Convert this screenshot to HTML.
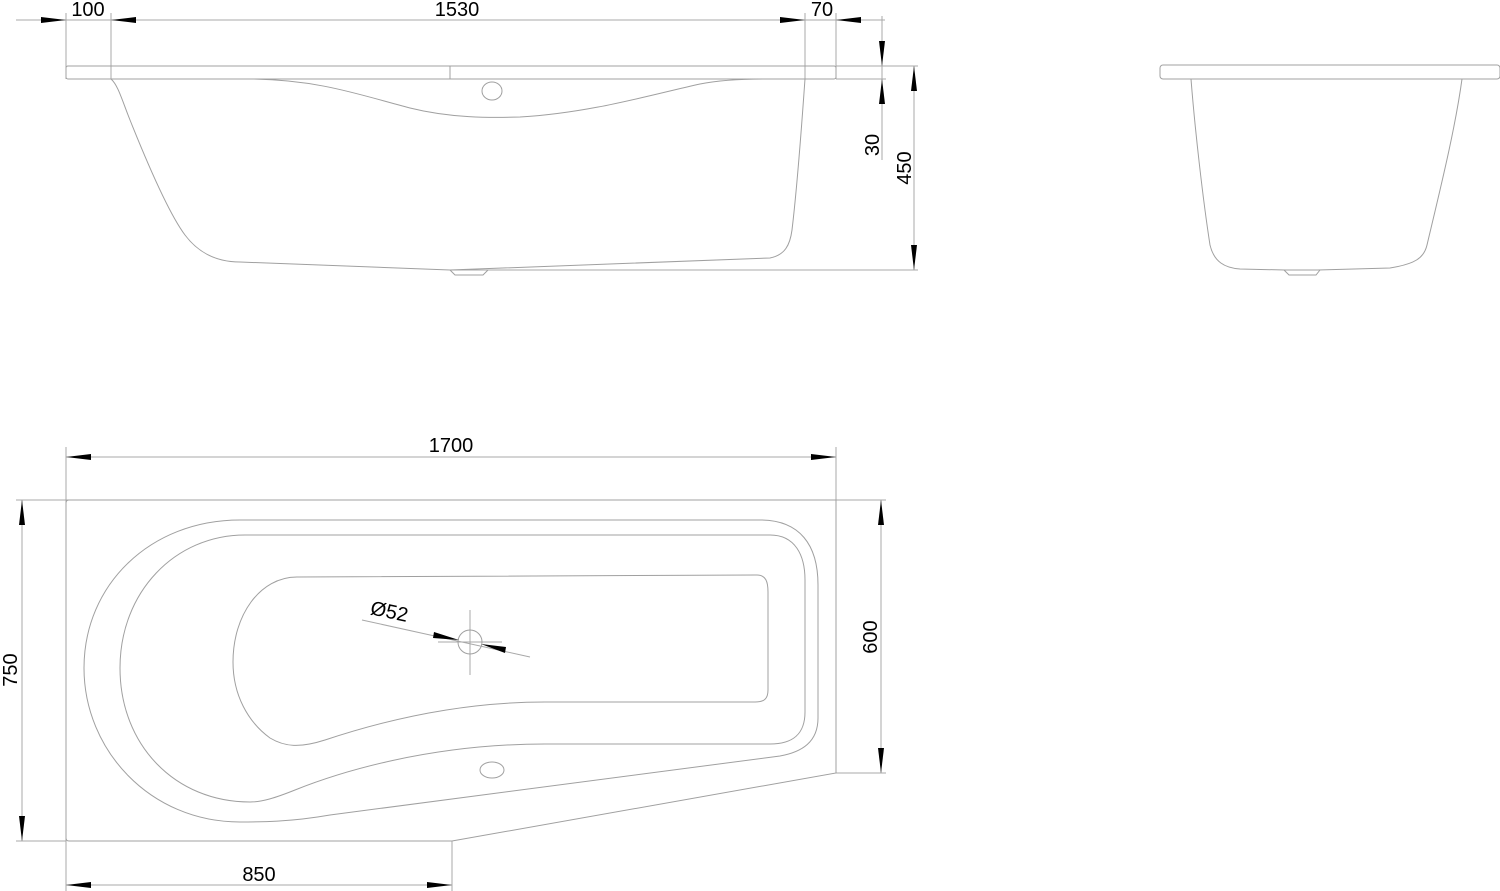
<!DOCTYPE html>
<html><head><style>html,body{margin:0;padding:0;background:#fff}svg{display:block}text{font-family:"Liberation Sans",sans-serif;font-size:20px;fill:#000}</style></head>
<body>
<svg width="1500" height="891" viewBox="0 0 1500 891" xmlns="http://www.w3.org/2000/svg">
<g fill="none" stroke="#a8a8a8" stroke-width="1">
<line x1="16" y1="20" x2="885" y2="20"/>
<line x1="66" y1="13" x2="66" y2="79"/>
<line x1="111" y1="13" x2="111" y2="79"/>
<line x1="805" y1="13" x2="805" y2="79"/>
<line x1="836" y1="13" x2="836" y2="79"/>
<line x1="882" y1="16" x2="882" y2="160"/>
<line x1="914" y1="66" x2="914" y2="270"/>
<line x1="836" y1="66" x2="918" y2="66"/>
<line x1="836" y1="79" x2="886" y2="79"/>
<line x1="450" y1="270" x2="918" y2="270"/>
<line x1="66" y1="457" x2="836" y2="457"/>
<line x1="66" y1="447" x2="66" y2="891"/>
<line x1="836" y1="447" x2="836" y2="500"/>
<line x1="16" y1="500" x2="886" y2="500"/>
<line x1="836" y1="773" x2="886" y2="773"/>
<line x1="16" y1="841" x2="66" y2="841"/>
<line x1="22" y1="500" x2="22" y2="841"/>
<line x1="881" y1="500" x2="881" y2="773"/>
<line x1="66" y1="885" x2="452" y2="885"/>
<line x1="452" y1="841" x2="452" y2="891"/>
<line x1="362" y1="620" x2="530" y2="657"/>
<line x1="438" y1="642" x2="502" y2="642"/>
<line x1="470" y1="610" x2="470" y2="675"/>
</g>
<g fill="none" stroke="#a0a0a0" stroke-width="1">
<rect x="66" y="66" width="770" height="13" rx="2"/>
<line x1="450" y1="66" x2="450" y2="79"/>
<path d="M111 79 C118 85 122 100 130 120 C150 170 170 215 185 235 C200 255 220 262 240 262 L450 270 L770 258 C785 255 790 245 792 230 C798 180 802 120 805 79"/>
<path d="M252 79 C320 80 360 95 410 108 C450 118 490 118 520 117 C590 113 650 95 700 84 C720 80 740 79 765 79"/>
<ellipse cx="492" cy="91" rx="10" ry="9"/>
<path d="M450 270 L455 275 L483 275 L488 270"/>
<rect x="1160" y="65" width="340" height="14" rx="3"/>
<path d="M1191 79 C1195 130 1203 200 1210 245 C1214 262 1225 268 1240 269 L1285 270 L1318 270 L1390 268 C1415 264 1424 258 1427 245 C1440 190 1455 130 1462 79"/>
<path d="M1284 270 L1289 275 L1316 275 L1320 270"/>
<path d="M69 500 L836 500 L836 773 L452 841 L69 841 Q66 841 66 838 L66 503 Q66 500 69 500"/>
<path d="M240 520 L760 520 C800 520 818 545 818 585 L818 718 C818 742 802 752 780 756 L330 815 C290 822 260 822 240 822 C150 822 84 750 84 668 C84 585 150 520 240 520 Z"/>
<path d="M245 535 L770 535 C795 535 805 555 805 580 L805 712 C805 735 792 744 770 744 L545 744 C430 744 340 772 295 790 C275 798 262 802 250 802 C175 802 120 745 120 668 C120 592 175 535 245 535 Z"/>
<path d="M297 577 L757 575 C766 575 768 582 768 592 L768 690 C768 699 764 702 755 702 L545 702 C450 702 370 725 325 740 C300 748 285 747 270 738 C248 722 233 695 233 662 C233 615 260 577 297 577 Z"/>
<circle cx="470" cy="642" r="12"/>
<ellipse cx="492" cy="770" rx="12" ry="8"/>
</g>
<g fill="#000">
<polygon points="41,17 66,20 41,23"/>
<polygon points="136,17 111,20 136,23"/>
<polygon points="780,17 805,20 780,23"/>
<polygon points="861,17 836,20 861,23"/>
<polygon points="879,41 882,66 885,41"/>
<polygon points="879,104 882,79 885,104"/>
<polygon points="911,91 914,66 917,91"/>
<polygon points="911,245 914,270 917,245"/>
<polygon points="91,454 66,457 91,460"/>
<polygon points="811,454 836,457 811,460"/>
<polygon points="19,525 22,500 25,525"/>
<polygon points="19,816 22,841 25,816"/>
<polygon points="878,525 881,500 884,525"/>
<polygon points="878,748 881,773 884,748"/>
<polygon points="91,882 66,885 91,888"/>
<polygon points="427,882 452,885 427,888"/>
<polygon points="434,632 459,640 433,638"/>
<polygon points="506,647 481,644 505,653"/>
</g>
<text x="88" y="16" text-anchor="middle">100</text>
<text x="457" y="16" text-anchor="middle">1530</text>
<text x="822" y="16" text-anchor="middle">70</text>
<text transform="translate(879,145) rotate(-90)" text-anchor="middle">30</text>
<text transform="translate(911,168) rotate(-90)" text-anchor="middle">450</text>
<text x="451" y="452" text-anchor="middle">1700</text>
<text transform="translate(17,670) rotate(-90)" text-anchor="middle">750</text>
<text transform="translate(877,637) rotate(-90)" text-anchor="middle">600</text>
<text x="259" y="881" text-anchor="middle">850</text>
<text transform="translate(388,618) rotate(12)" text-anchor="middle">Ø52</text>
</svg>
</body></html>
